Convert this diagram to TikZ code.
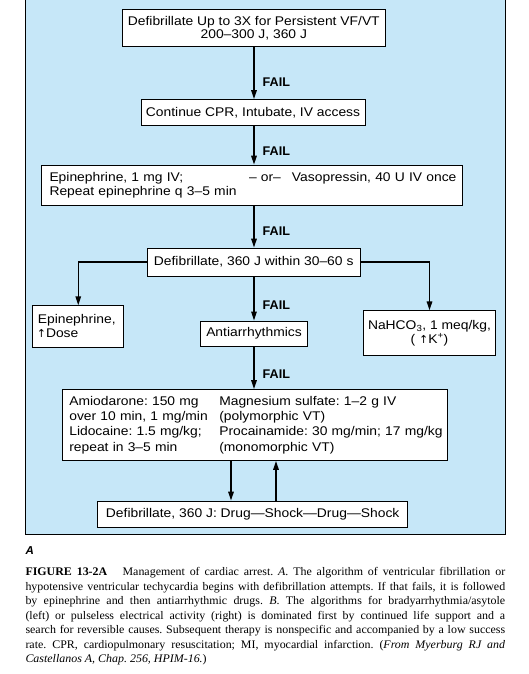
\documentclass[tikz,border=0pt]{standalone}
\usepackage{fontspec}
\setmainfont{Liberation Serif}[FakeStretch=1.03]
\newfontfamily\dfont{Liberation Sans}[FakeStretch=1.1]
\newfontfamily\failfont{Liberation Sans}
\newfontfamily\symfont{DejaVu Sans}
\usetikzlibrary{arrows.meta}
\definecolor{panelblue}{RGB}{198,231,248}
\frenchspacing
\newcommand\tworow[3]{\makebox[#1][l]{#2}\makebox[0pt][l]{#3}}
\begin{document}
\begin{tikzpicture}[x=1pt,y=-1pt,
  box/.style={draw=black, line width=0.8pt, fill=white, inner sep=0pt, align=center,
    font=\dfont\fontsize{12.6}{14.5}\selectfont},
  arr/.style={line width=1.5pt, -{Triangle[length=9pt,width=5.5pt]}},
  faillabel/.style={anchor=west, inner sep=0pt, font=\failfont\bfseries\fontsize{12.6}{14}\selectfont},
]
\useasboundingbox (0,0) rectangle (529,674);
\fill[white] (0,0) rectangle (529,674);
\fill[panelblue] (25.5,0) rectangle (505,534);
\draw[line width=1pt] (25.5,0) -- (25.5,534) -- (505,534) -- (505,0);

\node[box, minimum width=263.6pt, minimum height=37.2pt, font=\dfont\fontsize{12.6}{13}\selectfont] (b1) at (253.8,28)
  {Defibrillate Up to 3X for Persistent VF/VT\\200–300 J, 360 J};
\node[box, minimum width=224pt, minimum height=26pt] (b2) at (253,112.5) {Continue CPR, Intubate, IV access};
\node[box, align=left, inner xsep=7.8pt, text width=405.2pt, minimum height=40.3pt] (b3) at (252.1,185.2)
  {\makebox[199.5pt][l]{Epinephrine, 1 mg IV;}\tworow{43pt}{– or–}{Vasopressin, 40 U IV once}\\Repeat epinephrine q 3–5 min};
\node[box, minimum width=212.6pt, minimum height=28pt] (b4) at (253.7,262) {Defibrillate, 360 J within 30–60 s};
\node[box, align=left, inner xsep=5.1pt, text width=80.9pt, minimum height=41.2pt, font=\dfont\fontsize{12.6}{14.2}\selectfont] (b5) at (78.25,326.3)
  {Epinephrine,\\\hspace*{-1pt}{\symfont\fontsize{11}{11}\selectfont ↑}Dose};
\node[box, minimum width=107.3pt, minimum height=25pt] (b6) at (254,333.4) {Antiarrhythmics};
\node[box, minimum width=132.2pt, minimum height=44.5pt, font=\dfont\fontsize{12.6}{14.1}\selectfont] (b7) at (429.5,333)
  {NaHCO\textsubscript{3}, 1 meq/kg,\\( {\symfont\fontsize{11}{11}\selectfont ↑}K\textsuperscript{+})};
\node[box, align=left, inner xsep=6.8pt, text width=371.6pt, minimum height=71pt, font=\dfont\fontsize{12.6}{15.3}\selectfont] (b8) at (255.1,425)
  {\tworow{150pt}{Amiodarone: 150 mg}{Magnesium sulfate: 1–2 g IV}\\
   \tworow{150pt}{over 10 min, 1 mg/min}{(polymorphic VT)}\\
   \tworow{150pt}{Lidocaine: 1.5 mg/kg;}{Procainamide: 30 mg/min; 17 mg/kg}\\
   \tworow{150pt}{repeat in 3–5 min}{(monomorphic VT)}};
\node[box, minimum width=309.8pt, minimum height=26pt] (b9) at (252.7,514) {Defibrillate, 360 J: Drug—Shock—Drug—Shock};

\coordinate (mx) at (254,0);
\coordinate (dx) at (231,0);
\coordinate (ux) at (276,0);

\draw[arr] (b1.south -| mx) -- (b2.north -| mx);
\draw[arr] (b2.south -| mx) -- (b3.north -| mx);
\draw[arr] (b3.south -| mx) -- (b4.north -| mx);
\draw[arr] (b4.south -| mx) -- (b6.north -| mx);
\draw[arr] (b6.south -| mx) -- (b8.north -| mx);
\draw[arr] (b4.west) -| (b5.north);
\draw[arr] (b4.east) -| (b7.north);
\draw[arr] (b8.south -| dx) -- (b9.north -| dx);
\draw[arr] (b9.north -| ux) -- (b8.south -| ux);

\node[faillabel] (f1) at (262.5,82) {FAIL};
\node[faillabel] (f2) at (262.5,151) {FAIL};
\node[faillabel] (f3) at (262.5,231.2) {FAIL};
\node[faillabel] (f4) at (262.5,304.7) {FAIL};
\node[faillabel] (f5) at (262.5,374.2) {FAIL};

\node[anchor=base west, inner sep=0pt, font=\failfont\bfseries\itshape\fontsize{11.5}{12}\selectfont] (lblA) at (25.3,554) {A};

\node[anchor=north west, inner sep=0pt, text width=479.7pt, align=justify,
  font=\fontsize{11.6}{14.5}\selectfont] (cap) at (25.3,567.5)
  {\hyphenpenalty=10000\relax\tolerance=10000\relax
  {\bfseries FIGURE 13-2A}\hspace{0.9em} Management of cardiac arrest. \textit{A}. The algorithm of ventricular fibrillation or\linebreak
  hypotensive ventricular techycardia begins with defibrillation attempts. If that fails, it is followed\linebreak
  by epinephrine and then antiarrhythmic drugs. \textit{B}. The algorithms for bradyarrhythmia/asytole\linebreak
  (left) or pulseless electrical activity (right) is dominated first by continued life support and a\linebreak
  search for reversible causes. Subsequent therapy is nonspecific and accompanied by a low success\linebreak
  rate. CPR, cardiopulmonary resuscitation; MI, myocardial infarction. (\textit{From Myerburg RJ and}\linebreak
  \textit{Castellanos A, Chap. 256, HPIM-16.})};
\end{tikzpicture}
\end{document}
